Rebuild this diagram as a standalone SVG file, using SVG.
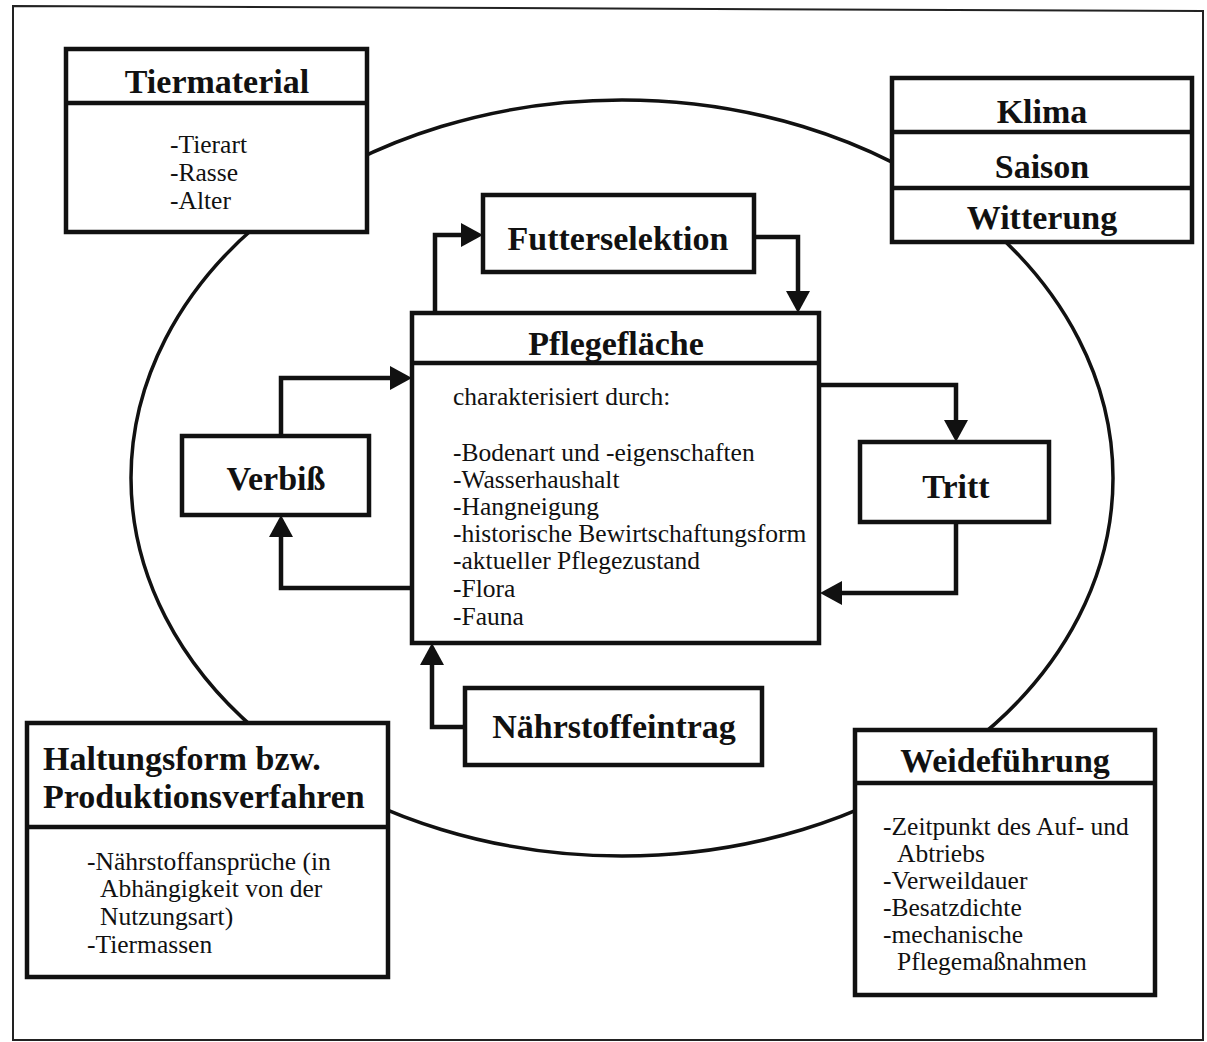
<svg xmlns="http://www.w3.org/2000/svg" width="1207" height="1042" viewBox="0 0 1207 1042">
<style>
.box{fill:#fff;stroke:#111;stroke-width:4.5}
.div{stroke:#111;stroke-width:4.5}
.t{font-family:"Liberation Serif","Times New Roman",serif;font-weight:bold;font-size:34px;fill:#111}
.c{text-anchor:middle}
.b{font-family:"Liberation Serif","Times New Roman",serif;font-size:25.5px;fill:#111}
.con{fill:none;stroke:#111;stroke-width:4.5}
</style>
<defs>
<marker id="ah" markerUnits="userSpaceOnUse" viewBox="0 0 22 24" refX="0" refY="12" markerWidth="22" markerHeight="24" orient="auto">
<path d="M0,0 L22,12 L0,24 z" fill="#111"/>
</marker>
</defs>
<rect width="1207" height="1042" fill="#fff"/>
<path id="frame" d="M13,6 L1203,11 L1203,1040 L13,1040 Z" fill="none" stroke="#222" stroke-width="2"/>
<ellipse id="cycle" cx="622" cy="478" rx="491" ry="378" fill="none" stroke="#111" stroke-width="3.5"/>
<g id="connectors">
<path class="con" d="M435,313 V235 H461" marker-end="url(#ah)"/>
<path class="con" d="M754,237 H798 V291" marker-end="url(#ah)"/>
<path class="con" d="M281,436 V378 H390" marker-end="url(#ah)"/>
<path class="con" d="M412,588 H281 V537" marker-end="url(#ah)"/>
<path class="con" d="M819,385 H956 V420" marker-end="url(#ah)"/>
<path class="con" d="M956,522 V593 H842" marker-end="url(#ah)"/>
<path class="con" d="M465,727 H432 V665" marker-end="url(#ah)"/>
</g>
<g id="tiermaterial">
<rect class="box" x="66" y="49" width="301" height="183"/>
<line class="div" x1="66" y1="103" x2="367" y2="103"/>
<text class="t c" x="217" y="93">Tiermaterial</text>
<text class="b" x="170" y="153">-Tierart</text>
<text class="b" x="170" y="181">-Rasse</text>
<text class="b" x="170" y="209">-Alter</text>
</g>
<g id="klima">
<rect class="box" x="892" y="78" width="300" height="164"/>
<line class="div" x1="892" y1="132" x2="1192" y2="132"/>
<line class="div" x1="892" y1="188" x2="1192" y2="188"/>
<text class="t c" x="1042" y="123">Klima</text>
<text class="t c" x="1042" y="178">Saison</text>
<text class="t c" x="1042" y="229">Witterung</text>
</g>
<g id="futterselektion">
<rect class="box" x="483" y="195" width="271" height="77"/>
<text class="t c" x="618" y="250">Futterselektion</text>
</g>
<g id="pflegeflaeche">
<rect class="box" x="412" y="313" width="407" height="330"/>
<line class="div" x1="412" y1="363" x2="819" y2="363"/>
<text class="t c" x="616" y="355">Pflegefläche</text>
<text class="b" x="453" y="405">charakterisiert durch:</text>
<text class="b" x="453" y="461">-Bodenart und -eigenschaften</text>
<text class="b" x="453" y="488">-Wasserhaushalt</text>
<text class="b" x="453" y="515">-Hangneigung</text>
<text class="b" x="453" y="542">-historische Bewirtschaftungsform</text>
<text class="b" x="453" y="569">-aktueller Pflegezustand</text>
<text class="b" x="453" y="597">-Flora</text>
<text class="b" x="453" y="625">-Fauna</text>
</g>
<g id="verbiss">
<rect class="box" x="182" y="436" width="187" height="79"/>
<text class="t c" x="276" y="490">Verbiß</text>
</g>
<g id="tritt">
<rect class="box" x="860" y="442" width="189" height="80"/>
<text class="t c" x="956" y="498">Tritt</text>
</g>
<g id="naehrstoffeintrag">
<rect class="box" x="465" y="688" width="297" height="77"/>
<text class="t c" x="614" y="738">Nährstoffeintrag</text>
</g>
<g id="haltungsform">
<rect class="box" x="27" y="723" width="361" height="254"/>
<line class="div" x1="27" y1="827" x2="388" y2="827"/>
<text class="t" x="43" y="770">Haltungsform bzw.</text>
<text class="t" x="43" y="808">Produktionsverfahren</text>
<text class="b" x="87" y="870">-Nährstoffansprüche (in</text>
<text class="b" x="100" y="897">Abhängigkeit von der</text>
<text class="b" x="100" y="925">Nutzungsart)</text>
<text class="b" x="87" y="953">-Tiermassen</text>
</g>
<g id="weidefuehrung">
<rect class="box" x="855" y="730" width="300" height="265"/>
<line class="div" x1="855" y1="783" x2="1155" y2="783"/>
<text class="t c" x="1005" y="772">Weideführung</text>
<text class="b" x="883" y="835">-Zeitpunkt des Auf- und</text>
<text class="b" x="897" y="862">Abtriebs</text>
<text class="b" x="883" y="889">-Verweildauer</text>
<text class="b" x="883" y="916">-Besatzdichte</text>
<text class="b" x="883" y="943">-mechanische</text>
<text class="b" x="897" y="970">Pflegemaßnahmen</text>
</g>
</svg>
